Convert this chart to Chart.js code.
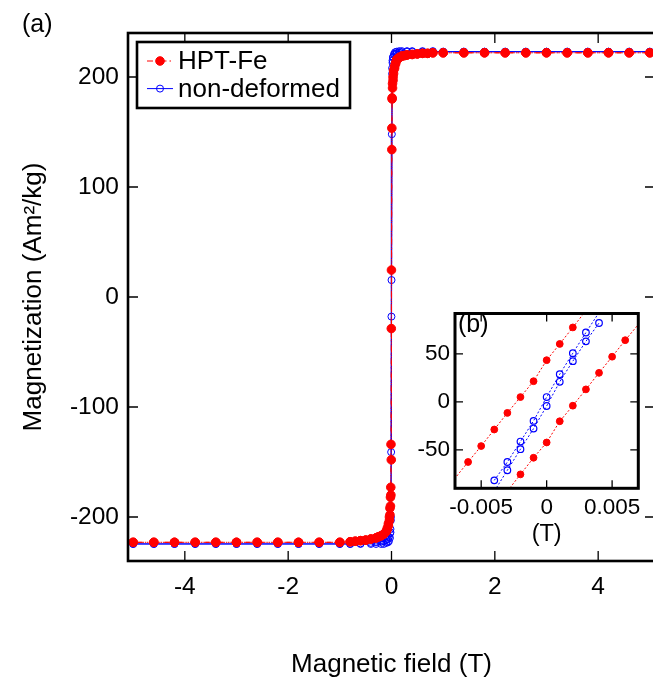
<!DOCTYPE html>
<html>
<head>
<meta charset="utf-8">
<script src="https://cdn.jsdelivr.net/npm/chart.js@4.4.1/dist/chart.umd.min.js"></script>
<style>
  html, body { margin: 0; padding: 0; background: #fff; overflow: hidden; }
  #stage { position: relative; width: 653px; height: 678px; overflow: hidden; }
  #main-wrap { position: absolute; left: 0; top: 0; width: 680px; height: 678px; }
  #inset-wrap { position: absolute; left: 395px; top: 295px; width: 258px; height: 255px; }
</style>
</head>
<body>
<div id="stage">
  <div id="main-wrap"><canvas id="main"></canvas></div>
  <div id="inset-wrap"><canvas id="inset"></canvas></div>
</div>
<script>
// Hysteresis loops, main panel (a): field in T, magnetization in Am2/kg
const hptFieldDown = [5, 4.6, 4.2, 3.8, 3.4, 3, 2.6, 2.2, 1.8, 1.4, 1,
  0.8, 0.7, 0.6, 0.5, 0.4, 0.3, 0.25, 0.2, 0.15, 0.1,
  0.08, 0.06, 0.04, 0.03, 0.02, 0.012, 0.0065,
  -0.001, -0.004, -0.0098, -0.014, -0.02, -0.03, -0.04, -0.06, -0.08, -0.1,
  -0.15, -0.2, -0.25, -0.3, -0.4, -0.5, -0.6, -0.7, -0.8,
  -1, -1.4, -1.8, -2.2, -2.6, -3, -3.4, -3.8, -4.2, -4.6, -5];
const hptMagDown = [222, 222, 222, 222, 222, 222, 222, 222, 222, 222, 222,
  222, 221.5, 221.5, 221, 220.5, 220, 219.5, 219, 218, 216,
  213, 210, 206, 200, 194, 181, 153.5,
  24.5, -28.7, -134, -173, -182, -192, -200, -206, -210, -213,
  -215.5, -217, -218, -219, -220, -221, -221.5, -222, -222.5,
  -223, -223, -223, -223, -223, -223, -223, -223, -223, -223, -223];
const hptFieldUp = [-5, -4.6, -4.2, -3.8, -3.4, -3, -2.6, -2.2, -1.8, -1.4, -1,
  -0.8, -0.7, -0.6, -0.5, -0.4, -0.3, -0.25, -0.2, -0.15, -0.1,
  -0.08, -0.06, -0.04, -0.03, -0.02, -0.012, -0.0045,
  0.0063, 0.012, 0.02, 0.03, 0.04, 0.06, 0.08, 0.1,
  0.15, 0.2, 0.25, 0.3, 0.4, 0.5, 0.6, 0.7, 0.8,
  1, 1.4, 1.8, 2.2, 2.6, 3, 3.4, 3.8, 4.2, 4.6, 5];
const hptMagUp = [-223, -223, -223, -223, -223, -223, -223, -223, -223, -223, -223,
  -222.5, -222, -221.5, -221, -220, -219, -218, -217, -215.5, -213,
  -211, -208, -203, -198, -190, -180, -148,
  134, 180, 190, 197, 203, 208, 212, 215,
  217.5, 219, 219.5, 220, 220.5, 221, 221.5, 221.5, 222,
  222, 222, 222, 222, 222, 222, 222, 222, 222, 222, 222];

const ndFieldDown = [5, 4.6, 4.2, 3.8, 3.4, 3, 2.6, 2.2, 1.8, 1.4, 1,
  0.8, 0.6, 0.4, 0.3, 0.2, 0.15, 0.1, 0.07, 0.05, 0.03, 0.02, 0.012, 0.0065,
  0.0005, -0.001, -0.0068, -0.012, -0.02, -0.03, -0.05, -0.07, -0.1,
  -0.15, -0.2, -0.3, -0.4, -0.6, -0.8,
  -1, -1.4, -1.8, -2.2, -2.6, -3, -3.4, -3.8, -4.2, -4.6, -5];
const ndMagDown = [223, 223, 223, 223, 223, 223, 223, 223, 223, 223, 223,
  223, 223, 223, 223, 222.5, 222, 221.5, 221, 220, 218, 215, 208, 148,
  15.4, -17.8, -141, -203, -214, -219, -222, -223, -223.5,
  -224.5, -224.5, -224.5, -224.5, -224.5, -224.5,
  -224.5, -224.5, -224.5, -224.5, -224.5, -224.5, -224.5, -224.5, -224.5, -224.5, -224.5];
const ndFieldUp = [-5, -4.6, -4.2, -3.8, -3.4, -3, -2.6, -2.2, -1.8, -1.4, -1,
  -0.8, -0.6, -0.4, -0.3, -0.2, -0.15, -0.1, -0.07, -0.05, -0.03, -0.02, -0.012,
  0.012, 0.02, 0.03, 0.05, 0.07, 0.1,
  0.15, 0.2, 0.3, 0.4, 0.6, 0.8,
  1, 1.4, 1.8, 2.2, 2.6, 3, 3.4, 3.8, 4.2, 4.6, 5];
const ndMagUp = [-224.5, -224.5, -224.5, -224.5, -224.5, -224.5, -224.5, -224.5, -224.5, -224.5, -224.5,
  -224.5, -224, -223.5, -223, -222.5, -222, -221, -220, -218, -215, -211, -200,
  203, 213, 218, 221, 222.5, 223,
  223.5, 223.5, 223.5, 223.5, 223.5, 223.5,
  223, 223, 223, 223, 223, 223, 223, 223, 223, 223, 223];

// Inset (b): low-field detail
const hptFineFieldDown = [0.003, 0.002, 0.001, 0, -0.001, -0.002, -0.003, -0.004, -0.005, -0.006, -0.007];
const hptFineMagDown = [95, 77.5, 60.3, 43.4, 21.5, 5, -11.5, -28.8, -46, -62.6, -79.5];
const hptFineFieldUp = [-0.003, -0.002, -0.001, 0, 0.001, 0.002, 0.003, 0.004, 0.005, 0.006, 0.007];
const hptFineMagUp = [-93, -75.5, -58.2, -42.3, -20.2, -4, 13, 30.2, 47, 64.2, 80.5];
const ndFineFieldDown = [0.004, 0.003, 0.002, 0.001, 0, -0.001, -0.002, -0.003, -0.004];
const ndFineMagDown = [93, 72.2, 50.7, 28.8, 5, -19.8, -41.3, -62.6, -81.7];
const ndFineFieldUp = [-0.004, -0.003, -0.002, -0.001, 0, 0.001, 0.002, 0.003, 0.004];
const ndFineMagUp = [-93, -71.2, -49.3, -27.8, -4.3, 20.9, 42.4, 63, 82.1];

const mainXTicks = [-4, -2, 0, 2, 4];
const mainYTicks = [-200, -100, 0, 100, 200];
const insetXTicks = [-0.005, 0, 0.005];
const insetYTicks = [-50, 0, 50];

const seriesNames = ['HPT-Fe', 'non-deformed'];

const FONT = "'Liberation Sans', Arial, Helvetica, sans-serif";
Chart.defaults.font.family = FONT;
Chart.defaults.color = '#000';

const RED = '#ff0000';
const BLUE = '#0000ff';

const toPoints = (xs, ys) => xs.map((x, i) => ({ x, y: ys[i] }));

// box + inward ticks on all four sides, like the original plot
const framePlugin = {
  id: 'frame',
  beforeDraw(chart, args, o) {
    if (!o.fill) return;
    const { ctx, chartArea: a } = chart;
    ctx.save();
    ctx.fillStyle = o.fill;
    ctx.fillRect(a.left, a.top, a.right - a.left, a.bottom - a.top);
    ctx.restore();
  },
  afterDatasetsDraw(chart, args, o) {
    const { ctx, chartArea: a, scales: { x, y } } = chart;
    ctx.save();
    ctx.strokeStyle = '#000';
    ctx.lineWidth = o.tickWidth;
    ctx.beginPath();
    x.ticks.forEach((t) => {
      const px = x.getPixelForValue(t.value);
      ctx.moveTo(px, a.bottom); ctx.lineTo(px, a.bottom - o.tickLen);
      ctx.moveTo(px, a.top); ctx.lineTo(px, a.top + o.tickLen);
    });
    y.ticks.forEach((t) => {
      const py = y.getPixelForValue(t.value);
      ctx.moveTo(a.left, py); ctx.lineTo(a.left + o.tickLen, py);
      ctx.moveTo(a.right, py); ctx.lineTo(a.right - o.tickLen, py);
    });
    ctx.stroke();
    ctx.lineWidth = o.lineWidth;
    ctx.strokeRect(a.left, a.top, a.right - a.left, a.bottom - a.top);
    if (o.label) {
      ctx.fillStyle = '#000';
      ctx.font = `${o.label.size}px ${FONT}`;
      ctx.textBaseline = 'middle';
      ctx.textAlign = 'left';
      ctx.fillText(o.label.text, o.label.x, o.label.y);
    }
    ctx.restore();
  }
};

// framed legend inside the plot (upper left)
const boxLegend = {
  id: 'boxLegend',
  afterDatasetsDraw(chart, args, o) {
    const { ctx } = chart;
    ctx.save();
    ctx.fillStyle = '#fff';
    ctx.fillRect(o.x, o.y, o.w, o.h);
    ctx.lineWidth = 2.6;
    ctx.strokeStyle = '#000';
    ctx.strokeRect(o.x, o.y, o.w, o.h);
    chart.data.datasets.forEach((ds, i) => {
      const cy = o.y + o.firstRow + i * o.rowGap;
      ctx.strokeStyle = ds.borderColor;
      ctx.lineWidth = 1;
      ctx.setLineDash(ds.borderDash || []);
      ctx.beginPath();
      ctx.moveTo(o.x + 10, cy);
      ctx.lineTo(o.x + 36, cy);
      ctx.stroke();
      ctx.setLineDash([]);
      ctx.beginPath();
      ctx.arc(o.x + 23, cy, ds.pointRadius, 0, Math.PI * 2);
      ctx.fillStyle = ds.pointBackgroundColor;
      ctx.fill();
      ctx.strokeStyle = ds.pointBorderColor;
      ctx.lineWidth = ds.pointBorderWidth;
      ctx.stroke();
      ctx.fillStyle = '#000';
      ctx.font = `26px ${FONT}`;
      ctx.textBaseline = 'middle';
      ctx.textAlign = 'left';
      ctx.fillText(ds.label, o.x + 41, cy + 1);
    });
    ctx.restore();
  }
};

const fixedTicks = (list) => (scale) => { scale.ticks = list.map((v) => ({ value: v })); };

new Chart(document.getElementById('main'), {
  type: 'line',
  data: {
    datasets: [
      {
        label: seriesNames[0],
        data: toPoints(hptFieldDown.concat(hptFieldUp), hptMagDown.concat(hptMagUp)),
        borderColor: RED, borderWidth: 1, borderDash: [6, 3, 1.5, 3],
        pointRadius: 4.3, pointBackgroundColor: RED, pointBorderColor: RED, pointBorderWidth: 1
      },
      {
        label: seriesNames[1],
        data: toPoints(ndFieldDown.concat(ndFieldUp), ndMagDown.concat(ndMagUp)),
        borderColor: BLUE, borderWidth: 1, borderDash: [],
        pointRadius: 3.5, pointBackgroundColor: 'rgba(0,0,0,0)', pointBorderColor: BLUE, pointBorderWidth: 1
      }
    ]
  },
  options: {
    animation: false,
    responsive: true,
    maintainAspectRatio: false,
    layout: { padding: { top: 33, right: 680 - 655, left: 0, bottom: 0 } },
    plugins: {
      legend: { display: false },
      tooltip: { enabled: false },
      frame: { lineWidth: 2.6, tickWidth: 1.3, tickLen: 10, label: { text: '(a)', x: 22, y: 25, size: 25 } },
      boxLegend: { x: 137, y: 42, w: 213, h: 66, firstRow: 19, rowGap: 27.6 }
    },
    scales: {
      x: {
        type: 'linear', min: -5.1, max: 5.1,
        afterBuildTicks: fixedTicks(mainXTicks),
        afterFit: (s) => { s.height = 117; },
        grid: { display: false, drawTicks: false },
        border: { display: false },
        ticks: { font: { size: 24.5 }, padding: 12, maxRotation: 0, autoSkip: false, callback: (v) => String(v) },
        title: { display: true, text: 'Magnetic field (T)', font: { size: 26, lineHeight: 1.1 }, padding: { top: 0, bottom: -1.5 } }
      },
      y: {
        type: 'linear', min: -240, max: 240,
        afterBuildTicks: fixedTicks(mainYTicks),
        afterFit: (s) => { s.width = 128; },
        grid: { display: false, drawTicks: false },
        border: { display: false },
        ticks: { font: { size: 24.5 }, padding: 9, autoSkip: false, callback: (v) => String(v) },
        title: { display: true, text: 'Magnetization (Am²/kg)', font: { size: 26, lineHeight: 1.1 }, padding: { top: 20, bottom: 0 } }
      }
    }
  },
  plugins: [framePlugin, boxLegend]
});

// inset: hide markers that sit on or past the box edge
const IX = [-0.007, 0.007];
const IY = [-90, 92];
const insetRadius = (r) => (ctx) => {
  const p = ctx.raw;
  if (!p) return r;
  return (p.x > IX[0] + 0.0001 && p.x < IX[1] - 0.0001 && p.y > IY[0] && p.y < IY[1]) ? r : 0;
};
const hptStyle = {
  borderColor: RED, borderWidth: 1, borderDash: [2, 2], clip: 0,
  pointRadius: insetRadius(3.4), pointBackgroundColor: RED, pointBorderColor: RED, pointBorderWidth: 1
};
const ndStyle = {
  borderColor: BLUE, borderWidth: 1, borderDash: [2, 2], clip: 0,
  pointRadius: insetRadius(3.3), pointBackgroundColor: 'rgba(0,0,0,0)', pointBorderColor: BLUE, pointBorderWidth: 1.2
};

new Chart(document.getElementById('inset'), {
  type: 'line',
  data: {
    datasets: [
      { label: seriesNames[0], data: toPoints(hptFineFieldDown, hptFineMagDown), ...hptStyle },
      { label: seriesNames[0], data: toPoints(hptFineFieldUp, hptFineMagUp), ...hptStyle },
      { label: seriesNames[1], data: toPoints(ndFineFieldDown, ndFineMagDown), ...ndStyle },
      { label: seriesNames[1], data: toPoints(ndFineFieldUp, ndFineMagUp), ...ndStyle }
    ]
  },
  options: {
    animation: false,
    responsive: true,
    maintainAspectRatio: false,
    layout: { padding: { top: 10, right: 258 - 243.3, left: 0, bottom: 0 } },
    plugins: {
      legend: { display: false },
      tooltip: { enabled: false },
      frame: { fill: '#fff', lineWidth: 3, tickWidth: 1.3, tickLen: 8, label: { text: '(b)', x: 63, y: 30, size: 25 } }
    },
    scales: {
      x: {
        type: 'linear', min: IX[0], max: IX[1],
        afterBuildTicks: fixedTicks(insetXTicks),
        afterFit: (s) => { s.height = 255 - 193.3; },
        grid: { display: false, drawTicks: false },
        border: { display: false },
        ticks: { font: { size: 22.5 }, padding: 6, maxRotation: 0, autoSkip: false, callback: (v) => String(v) },
        title: { display: true, text: '(T)', font: { size: 23.5, lineHeight: 1.2 }, padding: { top: 0, bottom: 1.5 } }
      },
      y: {
        type: 'linear', min: IY[0], max: IY[1],
        afterBuildTicks: fixedTicks(insetYTicks),
        afterFit: (s) => { s.width = 60; },
        grid: { display: false, drawTicks: false },
        border: { display: false },
        ticks: { font: { size: 22.5 }, padding: 5, autoSkip: false, callback: (v) => String(v) }
      }
    }
  },
  plugins: [framePlugin]
});
</script>
</body>
</html>
